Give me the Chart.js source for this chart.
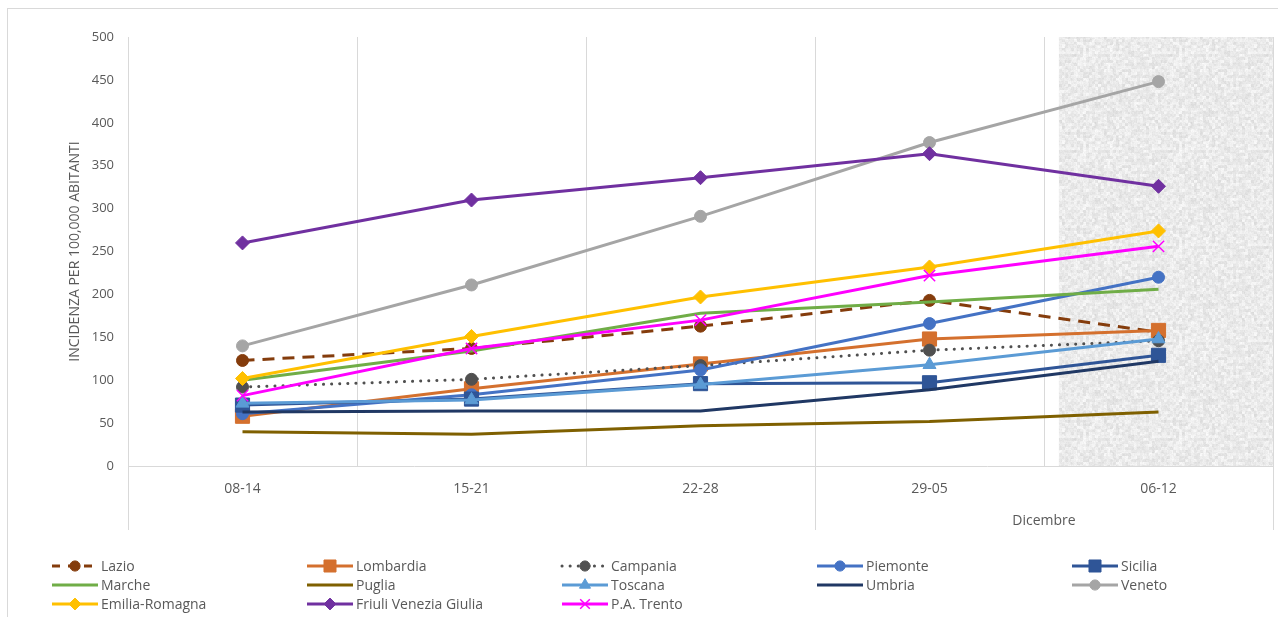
<!DOCTYPE html>
<html>
<head>
  <meta charset="UTF-8">
  <script src="https://cdn.jsdelivr.net/npm/chart.js@4.4.0/dist/chart.umd.min.js"></script>
  <style>
    html, body { margin: 0; padding: 0; background: #fff; overflow: hidden; }
    canvas { display: block; }
  </style>
</head>
<body>
  <canvas id="chart" width="1278" height="617"></canvas>
  <script>
    // settimane (categorie) e gruppi del mese sull'asse x
    const weeks = ['08-14', '15-21', '22-28', '29-05', '06-12'];
    const monthGroups = ['', 'Dicembre'];
    const monthStart = [0, 3];
    const yTicks = [0, 50, 100, 150, 200, 250, 300, 350, 400, 450, 500];

    // incidenza per 100.000 abitanti
    const lazio     = [123, 137, 163, 193, 156];
    const lombardia = [58, 90, 119, 148, 158];
    const campania  = [92, 101, 117, 135, 146];
    const piemonte  = [61, 83, 112, 166, 220];
    const sicilia   = [71, 78, 96, 97, 129];
    const marche    = [100, 134, 178, 191, 206];
    const puglia    = [40, 37, 47, 52, 63];
    const toscana   = [73, 77, 95, 118, 148];
    const umbria    = [63, 64, 64, 89, 122];
    const veneto    = [140, 211, 291, 377, 448];
    const emilia    = [102, 151, 197, 232, 274];
    const friuli    = [260, 310, 336, 364, 326];
    const trento    = [82, 137, 170, 222, 256];

    const FONT = '"Open Sans", "DejaVu Sans", sans-serif';
    const GREY_TXT = '#595959';
    const GRID = '#d9d9d9';

    function serie(label, data, color, extra) {
      return Object.assign({
        label: label,
        data: data,
        borderColor: color,
        backgroundColor: color,
        pointBackgroundColor: color,
        pointBorderColor: color,
        borderWidth: 3,
        pointBorderWidth: 1,
        pointRadius: 0,
        pointStyle: 'circle',
        tension: 0,
        fill: false
      }, extra || {});
    }

    const datasets = [
      serie('Lazio', lazio, '#843C0C', { borderDash: [12, 8], pointRadius: 6 }),
      serie('Lombardia', lombardia, '#D4702E', { pointStyle: 'rect', pointRadius: 10 }),
      serie('Campania', campania, '#505050', { borderDash: [0.1, 8], borderCapStyle: 'round', pointRadius: 6 }),
      serie('Piemonte', piemonte, '#4472C4', { pointRadius: 6 }),
      serie('Sicilia', sicilia, '#2F5597', { pointStyle: 'rect', pointRadius: 10 }),
      serie('Marche', marche, '#70AD47'),
      serie('Puglia', puglia, '#7F6000'),
      serie('Toscana', toscana, '#5B9BD5', { pointStyle: 'triangle', pointRadius: 7.5 }),
      serie('Umbria', umbria, '#203864'),
      serie('Veneto', veneto, '#A5A5A5', { pointRadius: 6 }),
      serie('Emilia-Romagna', emilia, '#FFC000', { pointStyle: 'rectRot', pointRadius: 7 }),
      serie('Friuli Venezia Giulia', friuli, '#7030A0', { pointStyle: 'rectRot', pointRadius: 7 }),
      serie('P.A. Trento', trento, '#FF00FF', { pointStyle: 'crossRot', pointRadius: 8, pointBorderWidth: 1.5 })
    ];
    // come in Excel: l'ultima serie sta sopra
    datasets.forEach((d, i) => { d.order = datasets.length - i; });

    // texture grigia "granito" per la settimana in corso
    function hash(i, j) {
      let n = Math.imul(i, 374761393) + Math.imul(j, 668265263);
      n = Math.imul(n ^ (n >>> 13), 1274126177);
      return ((n ^ (n >>> 16)) >>> 0) / 4294967295;
    }
    function makeTexture(ctx) {
      const c = document.createElement('canvas');
      c.width = 96; c.height = 96;
      const g = c.getContext('2d');
      const img = g.createImageData(96, 96);
      for (let y = 0; y < 96; y++) {
        for (let x = 0; x < 96; x++) {
          const coarse = hash(Math.floor(x / 3), Math.floor(y / 3) + 500);
          const mid = hash(Math.floor(x / 2) + 900, Math.floor(y / 2));
          const fine = hash(x, y);
          const v = Math.round(234 + (coarse - 0.5) * 20 + (mid - 0.5) * 10 + (fine - 0.5) * 8);
          const k = (y * 96 + x) * 4;
          img.data[k] = img.data[k + 1] = img.data[k + 2] = v;
          img.data[k + 3] = 255;
        }
      }
      g.putImageData(img, 0, 0);
      return ctx.createPattern(c, 'repeat');
    }

    const decor = {
      id: 'decor',
      beforeDraw(chart) {
        const ctx = chart.ctx;
        ctx.save();
        ctx.strokeStyle = GRID;
        ctx.lineWidth = 1;
        ctx.strokeRect(7.5, 8.5, 1400, 700);
        ctx.restore();
      },
      beforeDatasetsDraw(chart) {
        const { ctx, chartArea: a, scales: { x } } = chart;
        const sx = x.getPixelForValue(3.565);
        ctx.save();
        ctx.fillStyle = makeTexture(ctx);
        ctx.fillRect(sx, a.top, a.right - sx, a.bottom - a.top);
        ctx.restore();
      },
      afterDraw(chart) {
        const { ctx, chartArea: a, scales: { x } } = chart;
        ctx.save();
        // separatori dei gruppi (mese) sotto l'asse
        ctx.strokeStyle = GRID;
        ctx.lineWidth = 1;
        const bounds = monthStart.map(s => s - 0.5).concat([weeks.length - 0.5]);
        bounds.forEach(b => {
          const px = Math.round(x.getPixelForValue(b)) + 0.5;
          ctx.beginPath();
          ctx.moveTo(px, a.bottom);
          ctx.lineTo(px, a.bottom + 64);
          ctx.stroke();
        });
        ctx.fillStyle = GREY_TXT;
        ctx.font = '14px ' + FONT;
        ctx.textAlign = 'center';
        ctx.textBaseline = 'middle';
        monthGroups.forEach((m, i) => {
          const mid = (bounds[i] + bounds[i + 1]) / 2;
          ctx.fillText(m, x.getPixelForValue(mid), a.bottom + 55);
        });

        // legenda a griglia (5 colonne)
        const cols = 5, colW = 255, x0 = 52, y0 = 566, rowH = 19, len = 46;
        chart.data.datasets.forEach((d, i) => {
          const lx = x0 + (i % cols) * colW;
          const ly = y0 + Math.floor(i / cols) * rowH;
          ctx.save();
          ctx.strokeStyle = d.borderColor;
          ctx.lineWidth = d.borderWidth;
          ctx.lineCap = d.borderCapStyle || 'butt';
          ctx.setLineDash(d.borderDash ? [Math.min(d.borderDash[0], 8), d.borderDash[1]] : []);
          ctx.beginPath();
          ctx.moveTo(lx, ly);
          ctx.lineTo(lx + len, ly);
          ctx.stroke();
          ctx.setLineDash([]);
          if (d.pointRadius > 0) {
            ctx.fillStyle = d.pointBackgroundColor;
            ctx.strokeStyle = d.pointBorderColor;
            ctx.lineWidth = d.pointBorderWidth;
            Chart.helpers.drawPoint(ctx, {
              pointStyle: d.pointStyle,
              radius: d.pointRadius * 0.85,
              rotation: 0,
              borderWidth: d.pointBorderWidth
            }, lx + len / 2, ly);
          }
          ctx.restore();
          ctx.fillStyle = GREY_TXT;
          ctx.font = '14px ' + FONT;
          ctx.textAlign = 'left';
          ctx.textBaseline = 'middle';
          ctx.fillText(d.label, lx + len + 3, ly + 1);
        });
        ctx.restore();
      }
    };

    const ctx = document.getElementById('chart').getContext('2d');
    new Chart(ctx, {
      type: 'line',
      data: { labels: weeks, datasets: datasets },
      plugins: [decor],
      options: {
        responsive: false,
        animation: false,
        events: [],
        layout: { autoPadding: false, padding: { left: 8, right: 5, top: 37, bottom: 81 } },
        plugins: {
          legend: { display: false },
          tooltip: { enabled: false }
        },
        scales: {
          x: {
            offset: true,
            grid: { display: true, offset: true, color: GRID, drawTicks: false },
            border: { display: true, color: GRID },
            ticks: { color: GREY_TXT, padding: 15, font: { family: FONT, size: 14 } },
            afterFit(s) { s.height = 70; s.paddingLeft = 0; s.paddingRight = 0; }
          },
          y: {
            min: 0,
            max: 500,
            afterBuildTicks(s) { s.ticks = yTicks.map(v => ({ value: v })); },
            grid: { display: false, drawTicks: false },
            border: { display: false },
            ticks: { color: GREY_TXT, padding: 14, font: { family: FONT, size: 13 } },
            title: {
              display: true,
              text: 'INCIDENZA PER 100,000 ABITANTI',
              color: GREY_TXT,
              font: { family: FONT, size: 14 },
              padding: { top: 59, bottom: 0 }
            },
            afterFit(s) { s.width = 120; }
          }
        }
      }
    });
  </script>
</body>
</html>
